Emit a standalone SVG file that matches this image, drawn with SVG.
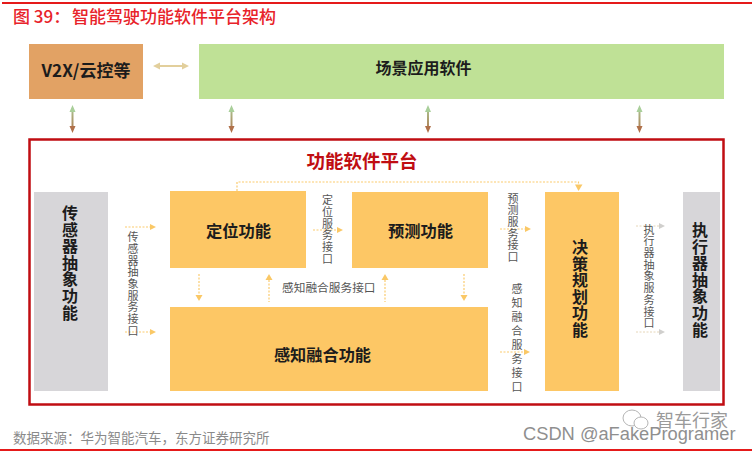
<svg xmlns="http://www.w3.org/2000/svg" width="752" height="454" viewBox="0 0 752 454">
<defs>
<linearGradient id="gv" x1="0" y1="105" x2="0" y2="133" gradientUnits="userSpaceOnUse"><stop offset="0" stop-color="#a9cf9a"/><stop offset="1" stop-color="#b0714a"/></linearGradient>
</defs>
<style>
text{font-family:"Noto Sans CJK SC","Liberation Sans",sans-serif}
.b{font-weight:700;fill:#1c1c1c;text-anchor:middle}
.v{font-weight:700;fill:#1c1c1c;font-size:16px;writing-mode:vertical-rl;letter-spacing:.6px}
.s{font-size:11px;fill:#555;writing-mode:vertical-rl;letter-spacing:.7px}
.o{fill:#fdc765}
.g{fill:#d7d6d9}
.d{fill:none;stroke:#fbcb6e;stroke-width:1.200;stroke-dasharray:2 1.500}
.dh{fill:#fac866}
.ud{fill:none;stroke:url(#gv);stroke-width:2}
</style>
<rect width="752" height="454" fill="#fff"/>
<rect x="2" y="2" width="750" height="2" fill="#e51a1a"/>
<rect x="0" y="449" width="752" height="2" fill="#e51a1a"/>
<text x="13" y="23" font-size="17" font-weight="500" fill="#e8232a">图 39&#xFF1A;<tspan x="72">智能驾驶功能软件平台架构</tspan></text>

<g id="node-v2x"><rect x="29" y="44" width="114" height="55" fill="#e2a264"/><text x="86" y="77" font-size="17" class="b">V2X/云控等</text></g>
<g id="node-scene"><rect x="199" y="44" width="525" height="55" fill="#bfe196"/><text x="423.500" y="74" font-size="16" class="b">场景应用软件</text></g>
<g id="node-platform"><rect x="29.500" y="139.500" width="694" height="265" fill="#fff" stroke="#c00d12" stroke-width="2.500"/><text x="362" y="168" font-size="18.500" font-weight="700" fill="#c00d12" text-anchor="middle">功能软件平台</text></g>
<g id="node-sensor"><rect x="34" y="192" width="74" height="199" class="g"/><text x="70" y="205" class="v">传感器抽象功能</text></g>
<g id="node-locate"><rect x="170" y="191" width="136" height="77" class="o"/><text x="238.500" y="237" font-size="16.300" class="b">定位功能</text></g>
<g id="node-predict"><rect x="352" y="192" width="136" height="76" class="o"/><text x="420.500" y="237" font-size="16.300" class="b">预测功能</text></g>
<g id="node-fusion"><rect x="170" y="307" width="318" height="84" class="o"/><text x="322.500" y="361" font-size="16.200" class="b">感知融合功能</text></g>
<g id="node-decision"><rect x="545" y="192" width="74" height="199" class="o"/><text x="580" y="239" class="v">决策规划功能</text></g>
<g id="node-actuator"><rect x="683" y="192" width="37" height="199" class="g"/><text x="700" y="222" class="v">执行器抽象功能</text></g>

<g id="connectors">
<path d="M157 66H186" stroke="#e2cf9c" stroke-width="2" fill="none"/>
<path d="M153 66L160 62.500V69.500ZM189 66L182 62.500V69.500Z" fill="#e2cf9c"/>
<g class="ud">
<path d="M72.500 110V128"/><path d="M231.500 110V128"/><path d="M428 110V128"/><path d="M639.500 110V128"/>
</g>
<path d="M72.500 105L75.500 112H69.500ZM231.500 105L234.500 112H228.500ZM428 105L431 112H425ZM639.500 105L642.500 112H636.500Z" fill="#a9cf9a"/>
<path d="M72.500 133L75.500 126H69.500ZM231.500 133L234.500 126H228.500ZM428 133L431 126H425ZM639.500 133L642.500 126H636.500Z" fill="#b0714a"/>

<path class="d" d="M237 191V182H578.500V185"/><path class="dh" d="M575 184.500H582.500L578.500 191Z"/>
<path class="d" d="M125 227H151"/><path class="dh" d="M150 224L156 227L150 230Z"/>
<path class="d" d="M125 332H151"/><path class="dh" d="M150 329L156 332L150 335Z"/>
<path class="d" d="M313 230H338"/><path class="dh" d="M337 227L343 230L337 233Z"/>
<path class="d" d="M500 229H525"/><path class="dh" d="M525 226L531 229L525 232Z"/>
<path class="d" d="M500 352H525"/><path class="dh" d="M524 349L530 352L524 355Z"/>
<path class="d" d="M199 274V295"/><path class="dh" d="M195.500 295H202.500L199 301Z"/>
<path class="d" d="M269 280V302"/><path class="dh" d="M265.500 280H272.500L269 274Z"/>
<path class="d" d="M385 280V302"/><path class="dh" d="M381.500 280H388.500L385 274Z"/>
<path class="d" d="M464 274V295"/><path class="dh" d="M460.500 295H467.500L464 301Z"/>
<path d="M636 226H660" fill="none" stroke="#e6d6b8" stroke-width="1" stroke-dasharray="2 1.500"/><path d="M659 223L665 226L659 229Z" fill="#d0cfcd"/>
<path d="M636 332H660" fill="none" stroke="#e6d6b8" stroke-width="1" stroke-dasharray="2 1.500"/><path d="M659 329L665 332L659 335Z" fill="#d0cfcd"/>
</g>

<g id="labels">
<text x="133" y="231.500" class="s">传感器抽象服务接口</text>
<text x="327.500" y="194.500" class="s">定位服务接口</text>
<text x="513" y="193" class="s">预测服务接口</text>
<text x="517" y="283.500" class="s" style="letter-spacing:3px">感知融合服务接口</text>
<text x="649" y="224" class="s">执行器抽象服务接口</text>
<text x="282" y="292" font-size="11.700" fill="#555">感知融合服务接口</text>
</g>
<text x="13" y="443" font-size="13.500" fill="#8a8a8a">数据来源&#xFF1A;华为智能汽车&#xFF0C;东方证券研究所</text>
<g fill="#fff" stroke="#b5b5b5" stroke-width="1"><ellipse cx="632" cy="418" rx="9" ry="8"/><ellipse cx="641" cy="423" rx="7" ry="6"/></g>
<text x="656" y="427" font-size="18" fill="#9a9a9a">智车行家</text>
<text x="523" y="440" font-size="18.300" fill="#8f8f8f" style="font-family:'Liberation Sans',sans-serif">CSDN @aFakeProgramer</text>
</svg>
